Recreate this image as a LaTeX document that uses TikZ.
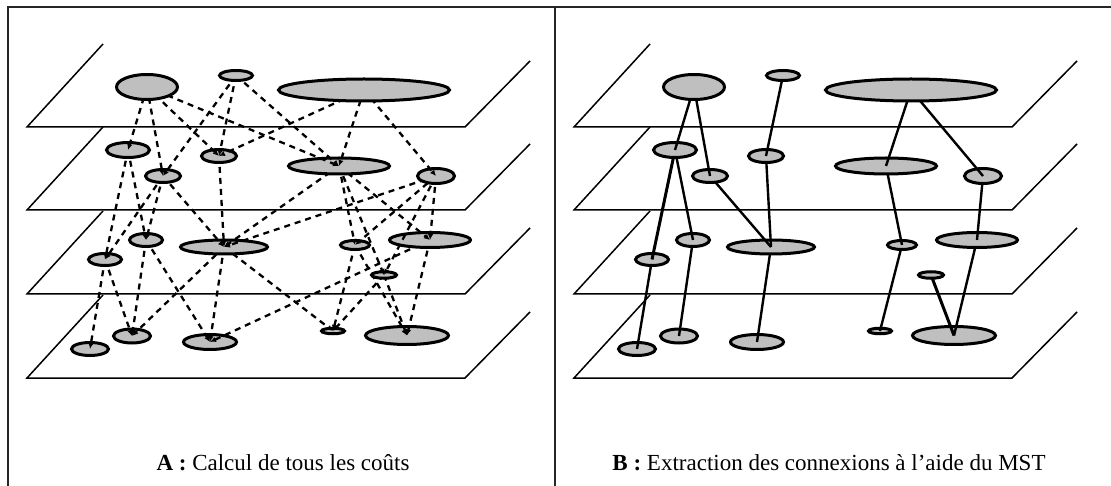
\documentclass[tikz,border=0pt]{standalone}
\usepackage{fontspec}
\setmainfont{Liberation Serif}
\usetikzlibrary{shapes.geometric,arrows.meta}
\pgfdeclarelayer{Dn}\pgfdeclarelayer{CDl}\pgfdeclarelayer{Cn}\pgfdeclarelayer{BCl}
\pgfdeclarelayer{Bn}\pgfdeclarelayer{ABl}\pgfdeclarelayer{An}
\pgfsetlayers{main,Dn,CDl,Cn,BCl,Bn,ABl,An}
\tikzset{
  blob/.style={ellipse,draw,line width=3pt,fill=black!25,inner sep=0pt},
  planeline/.style={line width=1.5pt,line join=miter},
  costline/.style={line width=2.3pt,dash pattern=on 6pt off 5pt,-{Latex[length=6pt,width=5.5pt]}},
  mstline/.style={line width=2.4pt},
  mstthick/.style={line width=3pt},
  frameline/.style={line width=1.3pt,black!85},
  caption/.style={anchor=base,font=\fontsize{23}{27}\selectfont,inner sep=0pt}
}
\newcommand\bl[6]{\node[blob,minimum width=#5pt,minimum height=#6pt] (#1#2) at (#3,#4) {};}
\newcommand\allnodes[1]{%
  \begin{pgfonlayer}{An}
  \bl{#1}{a1}{147}{87}{61}{25}%
  \bl{#1}{a2}{236}{75.5}{33}{10}%
  \bl{#1}{a3}{364}{90}{171}{22}%
  \end{pgfonlayer}
  \begin{pgfonlayer}{Bn}
  \bl{#1}{b1}{128}{150}{43}{15}%
  \bl{#1}{b2}{219}{156}{35}{13}%
  \bl{#1}{b3}{163}{176}{35}{13}%
  \bl{#1}{b4}{339}{166}{101}{16}%
  \bl{#1}{b5}{436}{176}{37}{15}%
  \end{pgfonlayer}
  \begin{pgfonlayer}{Cn}
  \bl{#1}{c1}{146}{240}{33}{13}%
  \bl{#1}{c2}{224}{247}{87}{14}%
  \bl{#1}{c3}{105}{259.5}{33}{12}%
  \bl{#1}{c4}{355}{245}{29}{9}%
  \bl{#1}{c5}{430}{240}{81}{15}%
  \bl{#1}{c6}{384}{275}{25}{6.5}%
  \end{pgfonlayer}
  \begin{pgfonlayer}{Dn}
  \bl{#1}{d1}{90}{349}{37}{13}%
  \bl{#1}{d2}{132}{336}{37}{14}%
  \bl{#1}{d3}{210}{342}{53}{15}%
  \bl{#1}{d4}{333}{331}{23}{5.5}%
  \bl{#1}{d5}{407}{335.5}{83}{18}%
  \end{pgfonlayer}}
\newcommand\planes{%
  \foreach \yb in {127,210,294,378}{%
    \draw[planeline] (103,\yb-83) -- (27,\yb) -- (465,\yb) -- (530,\yb-66);}}
\begin{document}
\begin{tikzpicture}[x=1pt,y=-1pt]
\useasboundingbox (0,0) rectangle (1111,486);
\draw[frameline] (8,486) -- (8,7) -- (1111,7);
\draw[frameline] (555,7) -- (555,486);
% ---------------- panel A ----------------
\begin{scope}
  \planes
  \allnodes{L}
  \begin{pgfonlayer}{CDl}
  \foreach \u/\v in {c1/d2,c1/d3,c2/d2,c2/d3,c2/d4,c3/d1,c3/d2,c4/d4,c4/d5,c5/d3,c5/d5,c6/d4,c6/d5}
    {\draw[costline] (L\u.center) -- (L\v.center);}
  \end{pgfonlayer}
  \begin{pgfonlayer}{BCl}
  \foreach \u/\v in {b1/c1,b1/c3,b2/c2,b3/c1,b3/c2,b3/c3,b4/c2,b4/c4,b4/c5,b4/c6,b5/c2,b5/c4,b5/c5,b5/c6}
    {\draw[costline] (L\u.center) -- (L\v.center);}
  \end{pgfonlayer}
  \begin{pgfonlayer}{ABl}
  \foreach \u/\v in {a1/b1,a1/b2,a1/b3,a1/b4,a2/b2,a2/b3,a2/b4,a3/b2,a3/b4,a3/b5}
    {\draw[costline] (L\u.center) -- (L\v.center);}
  \end{pgfonlayer}
\end{scope}
% ---------------- panel B ----------------
\begin{scope}[xshift=547pt]
  \planes
  \allnodes{R}
  \begin{pgfonlayer}{CDl}
  \foreach \u/\v in {c1/d2,c2/d3,c3/d1,c4/d4,c5/d5}
    {\draw[mstline] (R\u.center) -- (R\v.center);}
  \draw[mstthick] (Rc6.center) -- (Rd5.center);
  \end{pgfonlayer}
  \begin{pgfonlayer}{BCl}
  \foreach \u/\v in {b1/c1,b2/c2,b3/c2,b4/c4,b5/c5}
    {\draw[mstline] (R\u.center) -- (R\v.center);}
  \draw[mstthick] (Rb1.center) -- (Rc3.center);
  \end{pgfonlayer}
  \begin{pgfonlayer}{ABl}
  \foreach \u/\v in {a1/b1,a1/b3,a2/b2,a3/b4,a3/b5}
    {\draw[mstline] (R\u.center) -- (R\v.center);}
  \end{pgfonlayer}
\end{scope}
\node[caption] (capA) at (283,470) {\textbf{A :} Calcul de tous les coûts};
\node[caption] (capB) at (829,470) {\textbf{B :} Extraction des connexions à l'aide du MST};
\end{tikzpicture}
\end{document}
